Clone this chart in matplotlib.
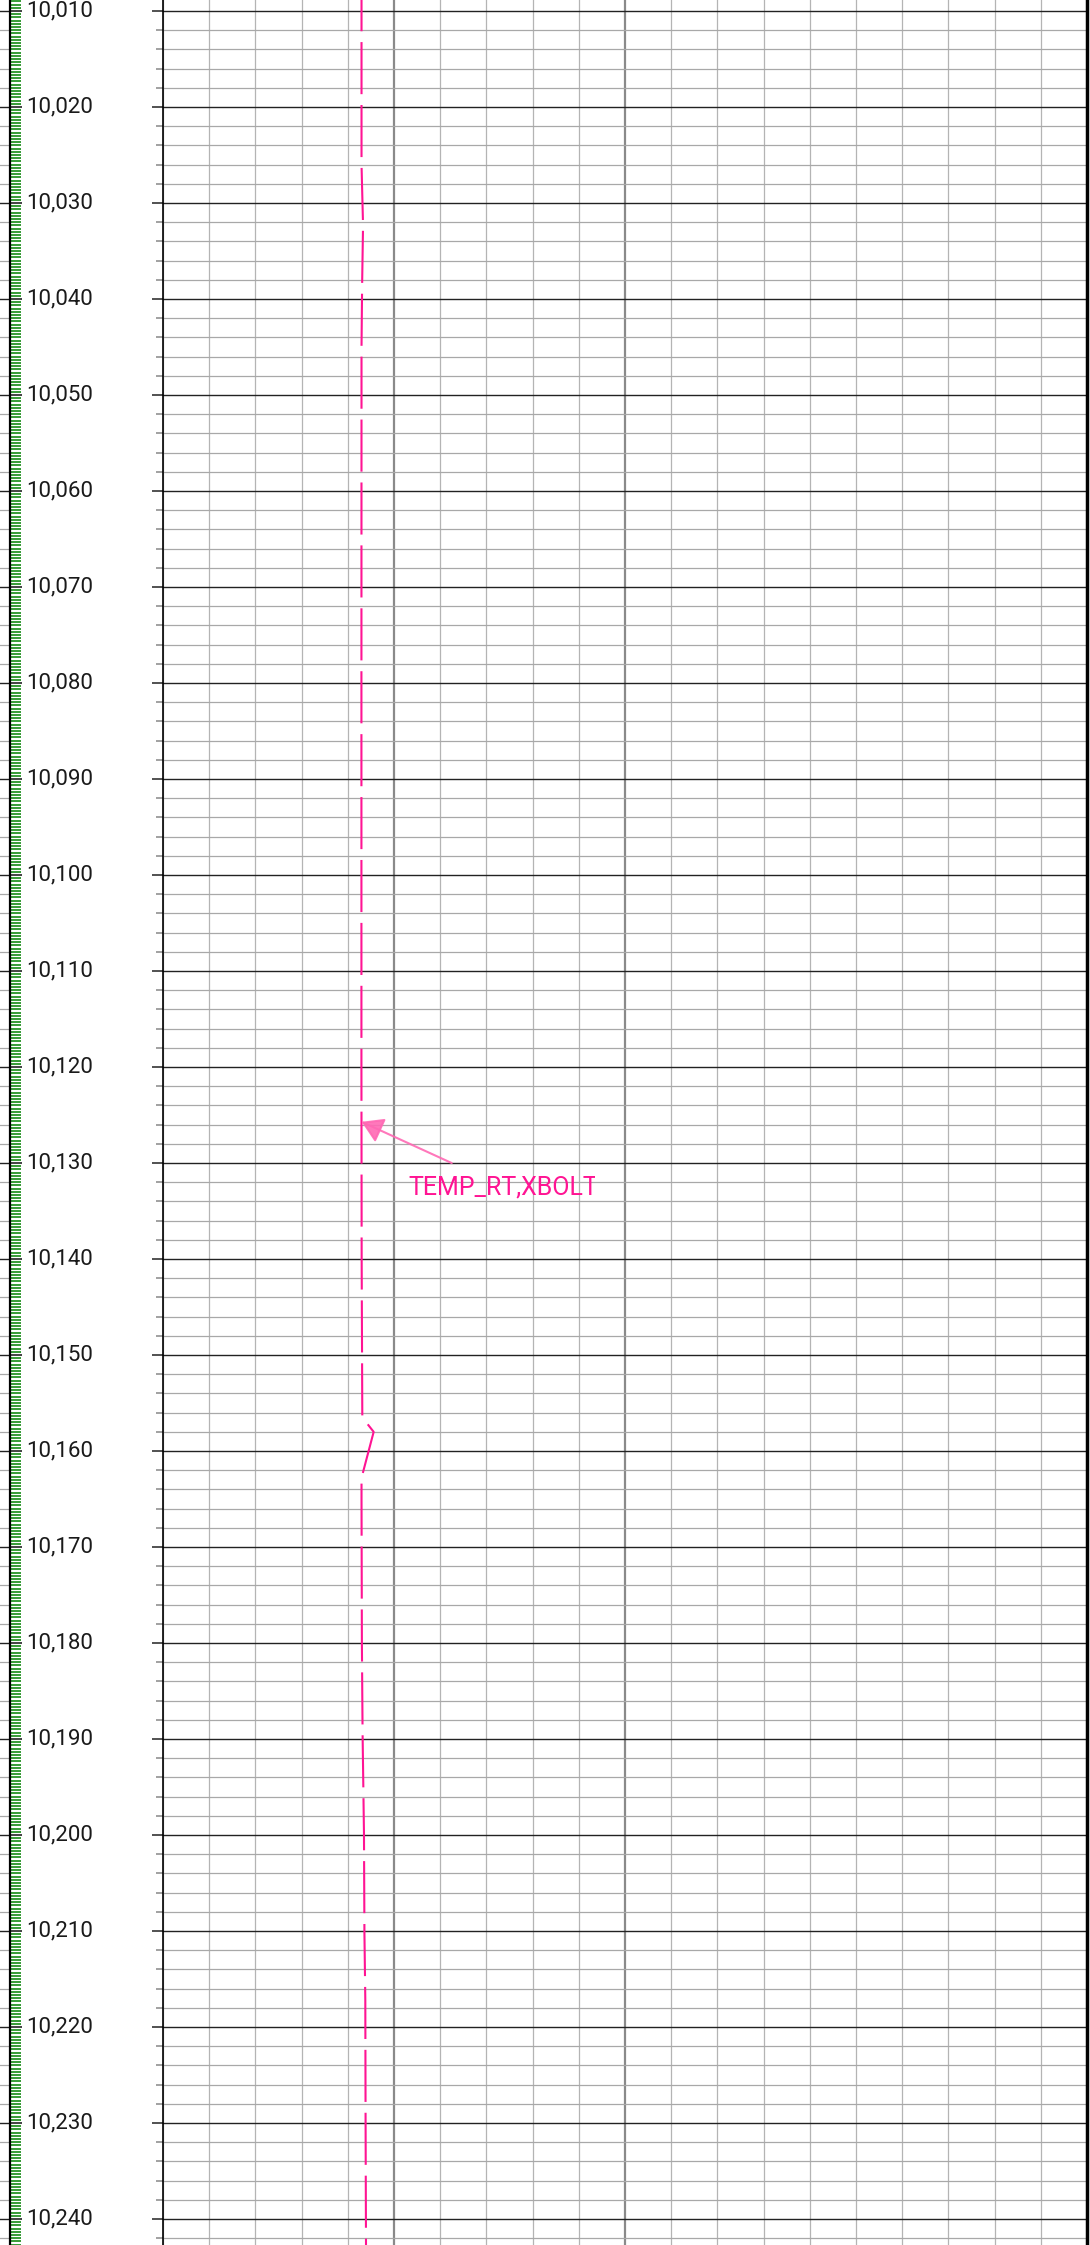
import matplotlib
matplotlib.use('Agg')
import matplotlib.pyplot as plt
from matplotlib.ticker import MultipleLocator, FixedLocator, NullFormatter
from matplotlib.transforms import Bbox, TransformedBbox, blended_transform_factory

plt.rcParams['font.family'] = ['Roboto', 'DejaVu Sans']

# depth window shown (ft)
depth_top = 10008.85
depth_bottom = 10242.7

# TEMP_RT curve (track scale 0 - 200)
depth = [10008.85, 10026.0, 10032.3, 10038.5, 10045.0, 10080.0, 10120.0, 10140.0,
         10156.5, 10158.0, 10162.8, 10165.1, 10180.0, 10189.4, 10199.8,
         10210.2, 10217.2, 10230.0, 10242.7]
temp_rt = [42.97, 42.97, 43.3, 43.1, 42.97, 42.95, 42.95, 43.0,
           43.14, 45.6, 42.97, 42.97, 43.05, 43.2, 43.5,
           43.6, 43.79, 43.85, 43.94]

depth_labels = [10010, 10020, 10030, 10040, 10050, 10060, 10070, 10080, 10090,
                10100, 10110, 10120, 10130, 10140, 10150, 10160, 10170, 10180,
                10190, 10200, 10210, 10220, 10230, 10240]

curve_name = 'TEMP_RT,XBOLT'
label_depth = 10125.7

W, H = 1090, 2245
fig = plt.figure(figsize=(W / 100, H / 100), dpi=100)

# strip of the track cut off on the left
ax_l = fig.add_axes([0, 0, 10 / W, 1])
# depth track
ax_d = fig.add_axes([10 / W, 0, 153 / W, 1])
# main curve track
ax = fig.add_axes([163 / W, 0, (1087 - 163) / W, 1])

for a in (ax_l, ax_d, ax):
    a.set_ylim(depth_bottom, depth_top)
    a.set_xlim(0, 200)
    for s in a.spines.values():
        s.set_visible(False)
    a.set_xticks([])
    a.patch.set_alpha(0)

# left strip: just the grid
ax_l.yaxis.set_major_locator(MultipleLocator(10))
ax_l.yaxis.set_minor_locator(MultipleLocator(2))
ax_l.grid(True, which='major', axis='y', color='#222222', lw=1.0)
ax_l.grid(True, which='minor', axis='y', color='#a8a8a8', lw=0.9)
ax_l.tick_params(axis='y', which='both', length=0, labelleft=False)

# depth track
ax_d.spines['left'].set_visible(True)
ax_d.spines['left'].set_linewidth(1.6)
ax_d.spines['left'].set_color('black')
ax_d.yaxis.set_major_locator(FixedLocator(depth_labels))
ax_d.yaxis.set_minor_locator(MultipleLocator(1 / 3))
ax_d.yaxis.set_major_formatter(NullFormatter())
ax_d.tick_params(axis='y', which='major', direction='in', length=8.6, width=1.2,
                 color='#222222', labelleft=False)
ax_d.tick_params(axis='y', which='minor', direction='in', length=7.6, width=1.1,
                 color='green')
tr = blended_transform_factory(ax_d.transAxes, ax_d.transData)
for d in depth_labels:
    ax_d.text(16 / 153, d, f'{d:,}', transform=tr, fontsize=16,
              va='center', ha='left', color='#1a1a1a')

# main track
ax.spines['left'].set_visible(True)
ax.spines['left'].set_linewidth(1.2)
ax.spines['right'].set_visible(True)
ax.spines['right'].set_linewidth(2.5)
ax.xaxis.set_major_locator(FixedLocator([50, 100]))
ax.xaxis.set_minor_locator(MultipleLocator(10))
ax.yaxis.set_major_locator(MultipleLocator(10))
ax.yaxis.set_minor_locator(MultipleLocator(2))
ax.tick_params(axis='x', which='both', length=0, labelbottom=False)
ax.tick_params(axis='y', which='major', direction='out', length=7.9, width=1.1,
               color='#222222', labelleft=False)
ax.tick_params(axis='y', which='minor', direction='out', length=5, width=1.1,
               color='#888888')
ax.grid(True, which='major', axis='x', color='#8a8a8a', lw=1.6)
ax.grid(True, which='minor', axis='x', color='#b4b4b4', lw=0.9)
ax.grid(True, which='major', axis='y', color='#222222', lw=1.0)
ax.grid(True, which='minor', axis='y', color='#a8a8a8', lw=0.9)
ax.set_axisbelow(True)

ax.plot(temp_rt, depth, color='#ff1493', lw=1.5,
        linestyle=(10, (25, 5.2)), solid_capstyle='butt', zorder=3)

# label with arrow
ax.annotate('', xy=(42.97, label_depth), xytext=(62.5, 10130.0),
            arrowprops=dict(arrowstyle='-|>,head_length=0.65,head_width=0.4',
                            mutation_scale=20, color='#ff69b4', lw=1.5,
                            alpha=0.9, shrinkA=0, shrinkB=0), zorder=4)
t = ax.text(53.2, 10132.5, curve_name, fontsize=18, color='#ff1493',
            va='center', ha='left', zorder=4)
t.set_clip_box(TransformedBbox(Bbox([[0, 0], [595 / W, 1]]), fig.transFigure))
t.set_clip_on(True)

fig.savefig('out.png', dpi=100)
